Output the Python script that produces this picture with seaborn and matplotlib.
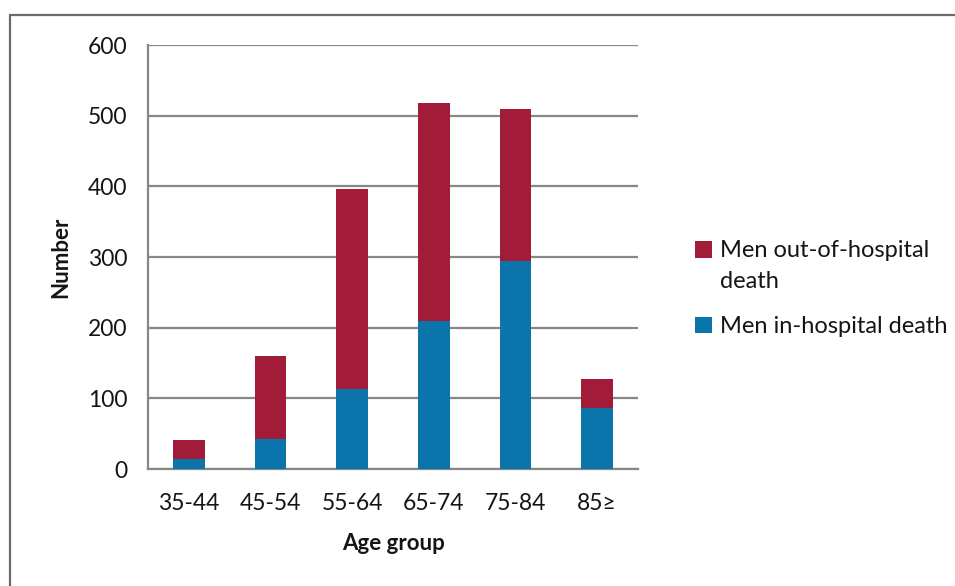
import matplotlib
matplotlib.use("Agg")
import matplotlib.pyplot as plt
from matplotlib.patches import Patch
from matplotlib.lines import Line2D
import seaborn as sns
import pandas as pd
import numpy as np

# Age groups and death counts for men
age_groups = ["35-44", "45-54", "55-64", "65-74", "75-84", "85\u2265"]
in_hospital = [14, 42, 113, 209, 295, 87]
out_of_hospital = [27, 118, 283, 309, 214, 41]

series_labels = ["Men out-of-hospital\ndeath", "Men in-hospital death"]
y_ticks = [0, 100, 200, 300, 400, 500, 600]

red = "#A21C3A"
blue = "#0B74AB"
grid_gray = "#878787"
text_color = "#151515"

sns.set_theme(style="white")
plt.rcParams["font.family"] = ["Lato", "DejaVu Sans"]

df = pd.DataFrame({
    "age": age_groups,
    "inside": in_hospital,
    "total": np.array(in_hospital) + np.array(out_of_hospital),
})

fig = plt.figure(figsize=(9.55, 5.86), dpi=100)
ax = fig.add_axes([148 / 955, 1 - 469 / 586, (638 - 148) / 955, (469 - 45) / 586])

# Stacked bars: full height in red, in-hospital part in blue on top
sns.barplot(data=df, x="age", y="total", color=red, width=0.39,
            saturation=1, linewidth=0, ax=ax, zorder=3)
sns.barplot(data=df, x="age", y="inside", color=blue, width=0.39,
            saturation=1, linewidth=0, ax=ax, zorder=4)

ax.set_xlim(-0.5, len(age_groups) - 0.5)
ax.set_ylim(0, 600)
ax.set_yticks(y_ticks)
ax.yaxis.grid(True, color=grid_gray, linewidth=1.6, zorder=0)
ax.set_axisbelow(True)

for side in ["top", "right"]:
    ax.spines[side].set_visible(False)
for side in ["left", "bottom"]:
    ax.spines[side].set_color(grid_gray)
    ax.spines[side].set_linewidth(1.6)

# Category separators as tick marks below the axis
ax.set_xticks(np.arange(-0.5, len(age_groups)), minor=True)
ax.tick_params(axis="x", which="major", length=0, pad=17, labelsize=16.5,
               labelcolor=text_color)
ax.tick_params(axis="x", which="minor", length=7, width=1.5, color=grid_gray,
               direction="out")
ax.tick_params(axis="y", length=7, width=1.5, color=grid_gray, direction="out",
               pad=8, labelsize=16.5, labelcolor=text_color)

ax.set_xlabel("Age group", fontsize=16, fontweight="bold", labelpad=14,
              color=text_color)
ax.set_ylabel("Number", fontsize=16, fontweight="bold", labelpad=12,
              color=text_color)

handles = [Patch(facecolor=red, edgecolor="none"),
           Patch(facecolor=blue, edgecolor="none")]
leg = fig.legend(handles, series_labels, loc="upper left",
                 bbox_to_anchor=(674 / 955, 1 - 219 / 586), frameon=False,
                 fontsize=17, handlelength=0.7, handleheight=0.7,
                 handletextpad=0.35, labelspacing=1.05, labelcolor=text_color)
for txt in leg.get_texts():
    txt.set_linespacing(1.55)
# keep the first marker level with the first line of its wrapped label
first = leg.legend_handles[0]
first.set_y(first.get_y() + 12)

# Outer frame along the top and left edges
fig.add_artist(Line2D([10 / 955, 10 / 955], [0, 1 - 15 / 586],
                      color="#6b6b6b", linewidth=1.6))
fig.add_artist(Line2D([10 / 955, 1], [1 - 15 / 586, 1 - 15 / 586],
                      color="#6b6b6b", linewidth=1.6))

fig.savefig("out.png", dpi=100, facecolor="white")
